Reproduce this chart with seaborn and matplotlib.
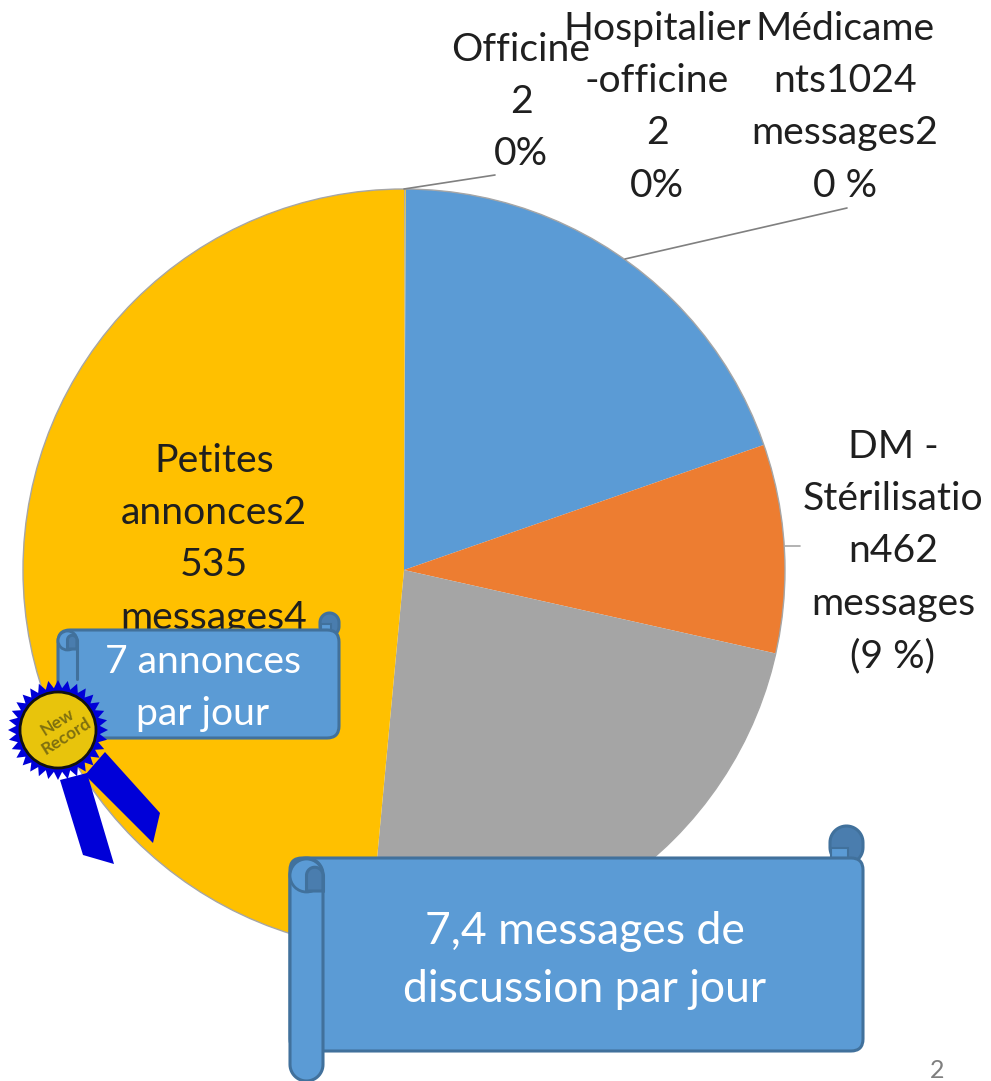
import numpy as np
import seaborn as sns
from matplotlib import pyplot as plt
from matplotlib.patches import Circle, FancyBboxPatch, Polygon, Rectangle

sns.set_theme(style='white')
plt.rcParams['font.family'] = ['Lato', 'DejaVu Sans']

# message counts, clockwise from the top
categories = ['Officine', 'Hospitalier-officine', 'Medicaments', 'DM - Sterilisation', 'Divers', 'Petites annonces']
messages = [2, 2, 1024, 462, 1200, 2535]
slice_colors = ['#A5A5A5', '#FFC000', '#5B9BD5', '#ED7D31', '#A5A5A5', '#FFC000']

officine_label = ['Officine', '2', '0%']
hospitalier_label = ['Hospitalier', '-officine', '2', '0%']
medicaments_label = ['Médicame', 'nts1024', 'messages2', '0 %']
dm_label = ['DM -', 'Stérilisatio', 'n462', 'messages', '(9 %)']
petites_label = ['Petites', 'annonces2', '535', 'messages4']
divers_label = ['Divers1121']

small_banner_text = ['7 annonces', 'par jour']
big_banner_text = ['7,4 messages de', 'discussion par jour']

FILL = '#5B9BD5'
EDGE = '#41719C'
DARK = '#4A7DAE'
BLUE = '#0000D8'
TEXT = '#1F1F1F'
FS = 28.2

fig = plt.figure(figsize=(9.91, 10.81), dpi=100)
ax = fig.add_axes([0, 0, 1, 1])

# y axis is flipped below, so counterclock gives a clockwise pie on screen
ax.pie(messages, colors=sns.color_palette(slice_colors), center=(404, 570), radius=381,
       startangle=-90, counterclock=True, wedgeprops={'linewidth': 0})
ax.set_xlim(0, 991)
ax.set_ylim(1081, 0)
ax.axis('off')
ax.add_patch(Circle((404, 570), 381, fill=False, ec='#A6A6A6', lw=1, zorder=2))


def put_lines(lines, cx, y0, step=52.2, size=FS, color=TEXT, z=4):
    for i, line in enumerate(lines):
        ax.text(cx, y0 + i * step, line, ha='center', va='center', fontsize=size, color=color, zorder=z)


def pill(x0, y0, x1, y1, color, z, bottom=True):
    # vertical bar with a round top and, if asked, a round bottom
    r = (x1 - x0) / 2
    t = np.linspace(np.pi, 2 * np.pi, 30)
    top = np.c_[x0 + r + r * np.cos(t), y0 + r + r * np.sin(t)]
    if bottom:
        low = np.c_[x0 + r - r * np.cos(t), y1 - r - r * np.sin(t)]
    else:
        low = np.array([[x1, y1], [x0, y1]])
    ax.add_patch(Polygon(np.r_[top, low], fc=color, ec=EDGE, lw=2.2, zorder=z))


def banner(x0, y0, x1, y1, w, up, down):
    # back of the right roll, then the body, then the front of the left roll
    pill(x1 - w, y0 - up, x1, y0 + 6, DARK, 5)
    ax.add_patch(Rectangle((x1 - w + 1, y0 - 0.3 * w), w / 2, 0.3 * w + 2, fc=FILL, ec=EDGE, lw=1.5, zorder=5))
    ax.add_patch(FancyBboxPatch((x0 + 12, y0 + 12), x1 - x0 - 24, y1 - y0 - 24,
                                boxstyle='round,pad=12,rounding_size=12', fc=FILL, ec=EDGE, lw=2.2, zorder=6))
    if down > 0:
        pill(x0, y0, x0 + w, y1 + down, FILL, 7)
    else:
        ax.plot([x0 + w, x0 + w], [y0 + w, y0 + 2.6 * w], color=EDGE, lw=2.2, zorder=7)
    ax.add_patch(Circle((x0 + w / 2, y0 + w / 2 + 1), w / 2, fc=FILL, ec=EDGE, lw=2, zorder=7))
    pill(x0 + w / 2, y0 + 0.28 * w, x0 + w, y0 + w, DARK, 8, bottom=False)
    ax.plot([x0 + w, x0 + w], [y0 + w / 2, y0 + w], color=EDGE, lw=2.2, zorder=8)


# labels and leader lines
ax.plot([404, 495], [189, 175], color='#808080', lw=1.2, zorder=3)
ax.plot([625, 847], [259, 208], color='#808080', lw=1.2, zorder=3)
ax.plot([785, 800], [546, 546], color='#A6A6A6', lw=1.2, zorder=3)
put_lines(officine_label, 521, 50)
put_lines(hospitalier_label, 657, 29)
put_lines(medicaments_label, 845, 29)
put_lines(dm_label, 893, 447)
put_lines(petites_label, 214, 461)
put_lines(divers_label, 683, 1039, z=3)
ax.text(937, 1070, '2', ha='center', va='center', fontsize=18, color='#7F7F7F', zorder=4)

# scrolls
banner(58, 630, 339, 738, 19, 17, 0)
put_lines(small_banner_text, 203, 662, color='white', z=9, size=FS)
banner(290, 858, 863, 1051, 33, 32, 30)
put_lines(big_banner_text, 585, 932, step=58, size=32, color='white', z=9)

# new record rosette
ax.add_patch(Polygon([(60, 780), (87, 773), (114, 864), (83, 855)], fc=BLUE, ec='none', zorder=10))
ax.add_patch(Polygon([(85, 775), (105, 752), (160, 813), (153, 843)], fc=BLUE, ec='none', zorder=10))
angles = np.linspace(0, 2 * np.pi, 64, endpoint=False)
radii = np.where(np.arange(64) % 2 == 0, 50, 42)
ax.add_patch(Polygon(np.c_[58 + radii * np.cos(angles), 730 + radii * np.sin(angles)],
                     fc=BLUE, ec='none', zorder=11))
ax.add_patch(Circle((58, 730), 38, fc='#E8C40C', ec='#111111', lw=2, zorder=12))
ax.text(62, 729, 'New\nRecord', rotation=32, ha='center', va='center', fontsize=12.5, fontweight='bold',
        color='#7F7010', linespacing=1.0, rotation_mode='anchor', zorder=13)

# the slide is cut just before the right border
ax.add_patch(Rectangle((983, 0), 8, 1081, fc='white', ec='none', zorder=20))

fig.savefig('out.png', dpi=100)
